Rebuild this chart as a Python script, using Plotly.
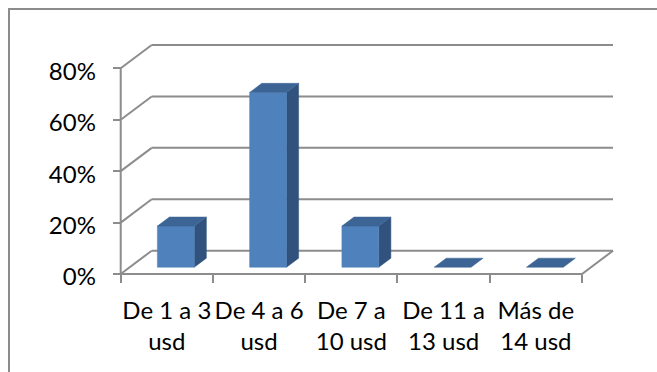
import plotly.graph_objects as go

# ---- data ----
categories = ["De 1 a 3<br>usd", "De 4 a 6<br>usd", "De 7 a<br>10 usd",
              "De 11 a<br>13 usd", "Más de<br>14 usd"]
shares = [16, 68, 16, 0, 0]          # percent of answers
pct_ticks = [0, 20, 40, 60, 80]

# ---- layout geometry (oblique 3-D look on a flat cartesian plane) ----
W, H = 657, 372
X0_PX, Y0_PX = 120.7, 274.0          # front-left floor corner in pixels
PX_PER_CAT = 92.26                   # pixels per category slot
PX_PER_PCT = 2.571                   # pixels per percentage point
DEPTH_DX = 31.0 / PX_PER_CAT         # depth offset, in category units
DEPTH_DY = 23.3 / PX_PER_PCT         # depth offset, in percent units
BAR_OFF, BAR_W = 0.30, 0.40          # bar position inside its slot
BAR_D0, BAR_D1 = 0.29, 0.68          # bar front / back depth fraction

GRID = "#8c8c8c"
FRONT, SIDE, TOP = "#4f81bd", "#30527c", "#3c6494"
FONT = "Lato"


def proj(u, p, d):
    """Project (category pos, percent, depth fraction) onto the plane."""
    return u + d * DEPTH_DX, p + d * DEPTH_DY


def line(pts, width=2):
    xs, ys = zip(*pts)
    return go.Scatter(x=xs, y=ys, mode="lines", hoverinfo="skip",
                      line=dict(color=GRID, width=width), showlegend=False)


def poly(pts, color):
    xs, ys = zip(*(pts + [pts[0]]))
    return go.Scatter(x=xs, y=ys, mode="lines", fill="toself",
                      fillcolor=color, line=dict(color=color, width=0.5),
                      hoverinfo="skip", showlegend=False)


n = len(categories)
fig = go.Figure()

# back wall gridlines and side-wall diagonals
for p in pct_ticks:
    fig.add_trace(line([proj(0, p, 1), proj(n, p, 1)]))
    fig.add_trace(line([proj(0, p, 0), proj(0, p, 1)]))

# floor front edge, right edge and front vertical axis
fig.add_trace(line([proj(0, 0, 0), proj(n, 0, 0), proj(n, 0, 1)]))
fig.add_trace(line([proj(0, 0, 0), proj(0, pct_ticks[-1], 0)]))

# columns
for i, v in enumerate(shares):
    u0, u1 = i + BAR_OFF, i + BAR_OFF + BAR_W
    top = [proj(u0, v, BAR_D0), proj(u1, v, BAR_D0),
           proj(u1, v, BAR_D1), proj(u0, v, BAR_D1)]
    if v > 0:
        front = [proj(u0, 0, BAR_D0), proj(u1, 0, BAR_D0),
                 proj(u1, v, BAR_D0), proj(u0, v, BAR_D0)]
        side = [proj(u1, 0, BAR_D0), proj(u1, 0, BAR_D1),
                proj(u1, v, BAR_D1), proj(u1, v, BAR_D0)]
        fig.add_trace(poly(side, SIDE))
        fig.add_trace(poly(front, FRONT))
    fig.add_trace(poly(top, TOP))

fig.update_layout(
    width=W, height=H, autosize=False,
    margin=dict(l=0, r=0, t=0, b=0),
    paper_bgcolor="white", plot_bgcolor="white",
    font=dict(family=FONT, size=24, color="#000000"),
    showlegend=False,
    xaxis=dict(
        domain=[0, 1],
        range=[-X0_PX / PX_PER_CAT, (W - X0_PX) / PX_PER_CAT],
        anchor="free", position=(H - Y0_PX) / H,
        tickmode="array", tickvals=[i + 0.5 for i in range(n)],
        ticktext=categories, ticks="outside", ticklen=8,
        tickcolor="rgba(0,0,0,0)", ticklabelstandoff=7,
        minor=dict(tickvals=list(range(n + 1)), ticks="outside",
                   ticklen=8, tickwidth=2, tickcolor=GRID),
        showgrid=False, zeroline=False, showline=False, fixedrange=True,
    ),
    yaxis=dict(
        domain=[0, 1],
        range=[(Y0_PX - H) / PX_PER_PCT, Y0_PX / PX_PER_PCT],
        anchor="free", position=X0_PX / W,
        tickmode="array", tickvals=pct_ticks,
        ticktext=[f"{p}%" for p in pct_ticks],
        ticks="outside", ticklen=8, tickwidth=2, tickcolor=GRID,
        ticklabelstandoff=12, ticklabelshift=3,
        showgrid=False, zeroline=False, showline=False, fixedrange=True,
    ),
    shapes=[dict(type="rect", xref="paper", yref="paper",
                 x0=9 / W, x1=1.2, y0=-0.2, y1=1 - 9 / H,
                 line=dict(color=GRID, width=2), layer="below")],
)

fig.write_html("out.html", config={"displayModeBar": False})
